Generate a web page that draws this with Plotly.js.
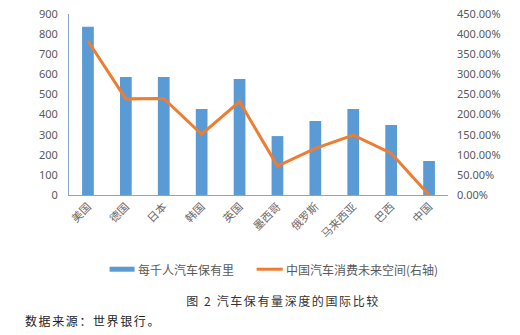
<!DOCTYPE html>
<html><head><meta charset="utf-8">
<script src="https://cdn.plot.ly/plotly-3.0.1.min.js"></script>
<style>body{margin:0;background:#fff}#c{width:520px;height:335px}</style>
</head><body><div id="c"></div>
<script>
const categories = ['美国','德国','日本','韩国','英国','墨西哥','俄罗斯','马来西亚','巴西','中国'];
const carsPerThousand = [837, 587, 587, 428, 577, 293, 368, 428, 348, 169];
const futureSpace = [3.83, 2.39, 2.40, 1.51, 2.32, 0.72, 1.16, 1.49, 1.04, 0.0];
const leftTicks = [0,100,200,300,400,500,600,700,800,900];
const rightTicks = [0,0.5,1,1.5,2,2.5,3,3.5,4,4.5];
const rightTickText = rightTicks.map(v => (v*100).toFixed(2) + '%');
const barName = '每千人汽车保有里';
const lineName = '中国汽车消费未来空间(右轴)';
const captionText = '图 2 汽车保有量深度的国际比较';
const sourceText = '数据来源：世界银行。';

const BLUE = '#5B9BD5', ORANGE = '#ED7D31', AX = '#8aa6c4', TXT = '#595959';
const FONT = '"Noto Sans CJK SC", "Microsoft YaHei", sans-serif';

const traces = [
  {type:'bar', x:categories, y:carsPerThousand, name:barName, marker:{color:BLUE}, showlegend:false, hoverinfo:'skip'},
  {type:'scatter', mode:'lines', x:categories, y:futureSpace, yaxis:'y2', name:lineName, line:{color:ORANGE, width:3}, showlegend:false, hoverinfo:'skip'}
];

const layout = {
  width:520, height:335,
  margin:{l:69, r:72, t:14, b:140},
  paper_bgcolor:'#fff', plot_bgcolor:'#fff',
  bargap:0.69,
  font:{family:FONT, size:11, color:TXT},
  xaxis:{tickangle:-45, showline:true, linecolor:AX, linewidth:1, ticks:'', showgrid:false,
         tickfont:{family:FONT, size:11, color:'#6a6a6a'}, fixedrange:true},
  yaxis:{range:[0,900], tickvals:leftTicks, showline:true, linecolor:AX, linewidth:1, showgrid:false, zeroline:false,
         ticks:'', ticklabelstandoff:8, tickfont:{family:'"Microsoft YaHei","Noto Sans", sans-serif', size:11, color:TXT}},
  yaxis2:{overlaying:'y', side:'right', range:[0,4.5], tickvals:rightTicks, ticktext:rightTickText, showline:false, showgrid:false, zeroline:false,
          ticks:'', ticklabelstandoff:8, tickfont:{family:'"Microsoft YaHei","Noto Sans", sans-serif', size:11, color:TXT}},
  shapes:[
    {type:'line', xref:'paper', yref:'paper', x0:0.107, x1:0.173, y0:-0.41, y1:-0.41, line:{color:BLUE, width:5}},
    {type:'line', xref:'paper', yref:'paper', x0:0.495, x1:0.564, y0:-0.41, y1:-0.41, line:{color:ORANGE, width:3}}
  ],
  annotations:[
    {xref:'paper', yref:'paper', x:0.176, y:-0.41, xanchor:'left', yanchor:'middle', text:barName, showarrow:false, font:{family:FONT, size:12, color:TXT}},
    {xref:'paper', yref:'paper', x:0.567, y:-0.41, xanchor:'left', yanchor:'middle', text:lineName, showarrow:false, font:{family:FONT, size:12, color:TXT}},
    {xref:'paper', yref:'paper', x:0.337, y:-0.583, xanchor:'left', yanchor:'middle', text:captionText, showarrow:false, font:{family:FONT, size:12, color:'#333'}},
    {xref:'paper', yref:'paper', x:-0.100, y:-0.694, xanchor:'left', yanchor:'middle', text:sourceText, showarrow:false, font:{family:FONT, size:12, color:'#222'}}
  ]
};
Plotly.newPlot('c', traces, layout, {staticPlot:true}).then(gd => {
  const anns = gd.querySelectorAll('.annotation-text');
  if (anns[2]) anns[2].style.letterSpacing = '1.6px';
  if (anns[3]) anns[3].style.letterSpacing = '1.6px';
});
</script></body></html>
